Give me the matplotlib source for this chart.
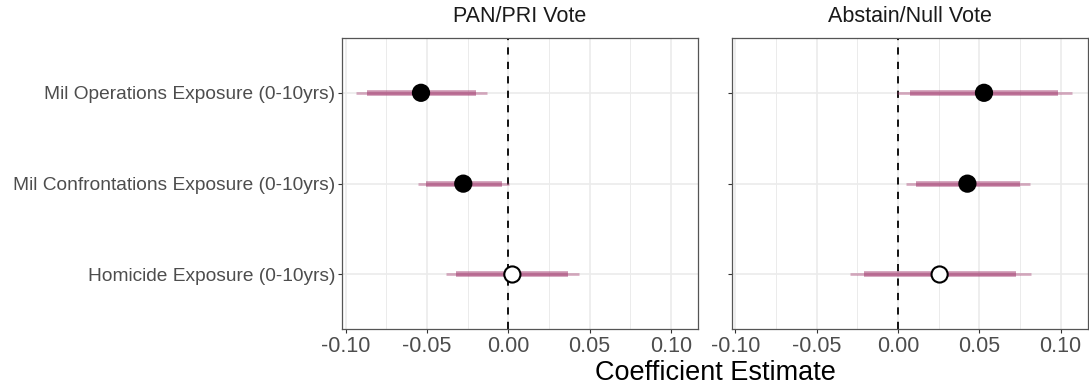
import numpy as np
import matplotlib
matplotlib.use("Agg")
import matplotlib.pyplot as plt

plt.rcParams["font.family"] = ["Liberation Sans", "DejaVu Sans"]

# variables (top to bottom) and facets
terms = ["Mil Operations Exposure (0-10yrs)",
         "Mil Confrontations Exposure (0-10yrs)",
         "Homicide Exposure (0-10yrs)"]
panels = ["PAN/PRI Vote", "Abstain/Null Vote"]

# estimates, 90% (thick) and 95% (thin) intervals, per facet
est = {"PAN/PRI Vote": [-0.0537, -0.0277, 0.0025],
       "Abstain/Null Vote": [0.0529, 0.0427, 0.0256]}
lo90 = {"PAN/PRI Vote": [-0.0871, -0.0508, -0.0320],
        "Abstain/Null Vote": [0.0072, 0.0113, -0.0209]}
hi90 = {"PAN/PRI Vote": [-0.0199, -0.0037, 0.0369],
        "Abstain/Null Vote": [0.0985, 0.0749, 0.0724]}
lo95 = {"PAN/PRI Vote": [-0.0937, -0.0554, -0.0385],
        "Abstain/Null Vote": [-0.0004, 0.0051, -0.0297]}
hi95 = {"PAN/PRI Vote": [-0.0133, 0.0004, 0.0435],
        "Abstain/Null Vote": [0.1073, 0.0811, 0.0817]}
signif = {"PAN/PRI Vote": [True, True, False],
          "Abstain/Null Vote": [True, True, False]}

W, H = 1089, 389
fig = plt.figure(figsize=(W / 100, H / 100), dpi=100)
bar_col = "#a33a6e"
grid_col = "#ebebeb"

lefts = [342, 731.7]
for k, (name, x0) in enumerate(zip(panels, lefts)):
    ax = fig.add_axes([x0 / W, (389 - 329) / H, 356 / W, 290.7 / H])
    ypos = np.arange(len(terms))[::-1] + 1
    ax.set_xlim(-0.1023, 0.1167)
    ax.set_ylim(0.4, 3.6)
    ax.set_xticks([-0.1, -0.05, 0, 0.05, 0.1])
    ax.set_xticks([-0.075, -0.025, 0.025, 0.075], minor=True)
    ax.set_xticklabels(["-0.10", "-0.05", "0.00", "0.05", "0.10"],
                       fontsize=15.5, color="#4d4d4d")
    ax.grid(True, which="major", color=grid_col, lw=1.2, zorder=0)
    ax.grid(True, which="minor", axis="x", color=grid_col, lw=0.7, zorder=0)
    ax.set_axisbelow(True)
    ax.set_yticks(ypos)
    if k == 0:
        ax.set_yticklabels(terms, fontsize=13.8, color="#4d4d4d")
    else:
        ax.set_yticklabels([])
    ax.tick_params(which="major", length=3, width=0.8, color="#333333", pad=2)
    ax.tick_params(which="minor", length=0)
    for s in ax.spines.values():
        s.set_color("#555555")
        s.set_linewidth(0.9)
    ax.axvline(0, color="black", ls=(0, (4, 4)), lw=1.3, zorder=2)
    ax.hlines(ypos, lo95[name], hi95[name], color=bar_col, alpha=0.4, lw=2, zorder=3)
    ax.hlines(ypos, lo90[name], hi90[name], color=bar_col, alpha=0.55, lw=4, zorder=3)
    fc = ["black" if s else "white" for s in signif[name]]
    ax.scatter(est[name], ypos, s=135, facecolors=fc, edgecolors="black",
               linewidths=1.5, zorder=4)
    fig.text((x0 + 178) / W, 1 - 17 / H, name, ha="center", va="center",
             fontsize=15.5, color="#1a1a1a")

fig.text(715 / W, 1 - 373 / H, "Coefficient Estimate", ha="center",
         va="center", fontsize=19.5, color="black")

fig.savefig("out.png", dpi=100)
